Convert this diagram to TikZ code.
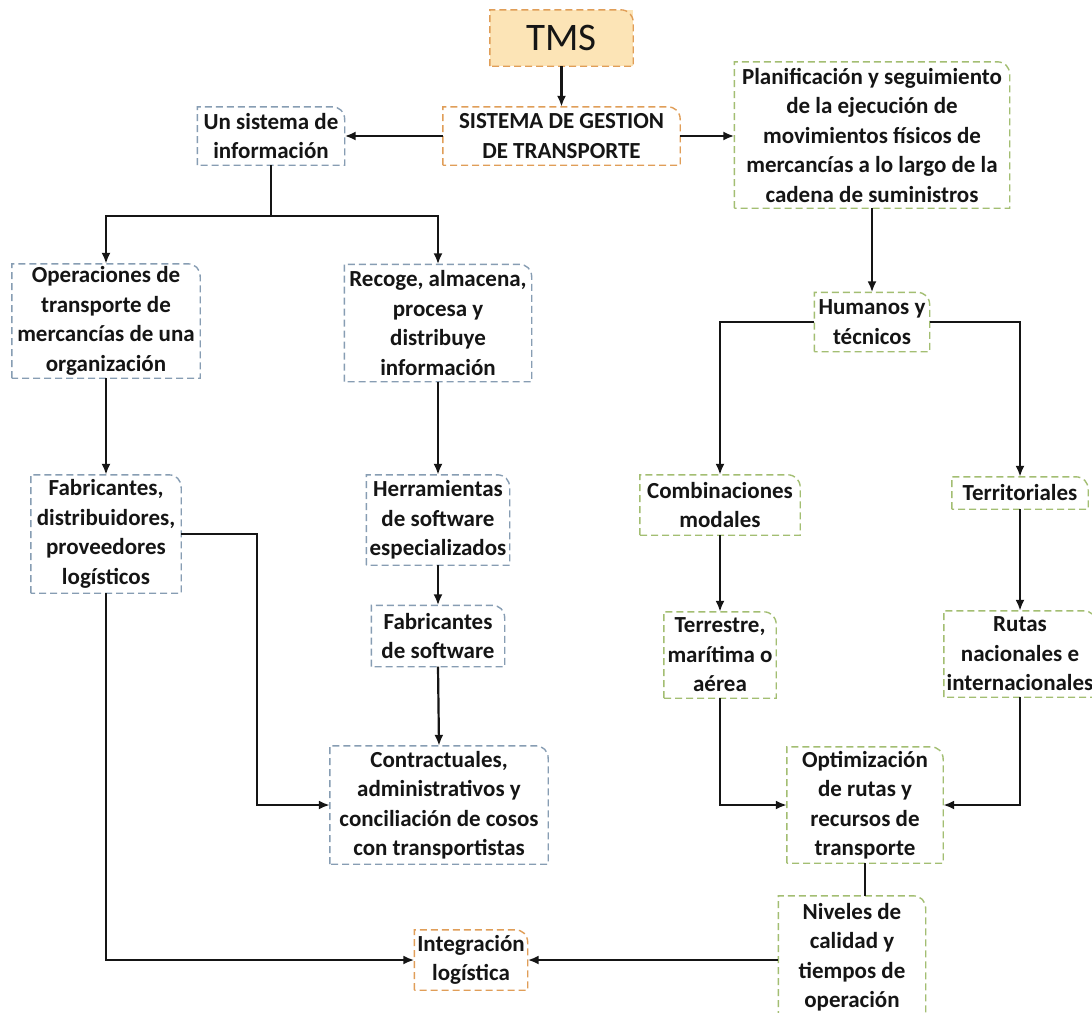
\documentclass[tikz,border=0pt]{standalone}
\usepackage{fontspec}
\setmainfont{Carlito}
\usetikzlibrary{arrows.meta}
\definecolor{bluebd}{HTML}{879DB3}
\definecolor{greenbd}{HTML}{A3BE72}
\definecolor{orangebd}{HTML}{E09E58}
\definecolor{tmsfill}{HTML}{FCE4B6}
\definecolor{inkline}{HTML}{151515}
\begin{document}
\begin{tikzpicture}[x=1pt,y=-1pt,
  every node/.style={inner sep=0pt, align=center, text=inkline},
  txt/.style={font=\bfseries\fontsize{23}{29.5}\selectfont},
  cbox/.style n args={3}{txt, minimum width=#1, minimum height=#2},
  bord/.style={line width=1.4pt, dash pattern=on 7pt off 4pt},
  arr/.style={line width=2.2pt, draw=inkline, -{Latex[length=11pt,width=9pt]}},
  link/.style={line width=2.2pt, draw=inkline}
]
\path[use as bounding box, clip] (0,0) rectangle (1092,1012);
\fill[white] (0,0) rectangle (1092,1012);

% --- top ---
\node[minimum width=143pt, minimum height=56pt, fill=tmsfill,
      font=\fontsize{39}{44}\selectfont] (tms) at (561.5,38) {TMS};
\node[cbox={237pt}{58pt}{}] (sis) at (561.5,136) {SISTEMA DE GESTION\\DE TRANSPORTE};
\node[cbox={147pt}{58pt}{}] (uns) at (271,136) {Un sistema de\\información};
\node[cbox={275pt}{146pt}{}] (plan) at (872,135) {Planificación y seguimiento\\de la ejecución de\\movimientos físicos de\\mercancías a lo largo de la\\cadena de suministros};

% --- left branch ---
\node[cbox={188pt}{114pt}{}] (ope) at (106,321) {Operaciones de\\transporte de\\mercancías de una\\organización};
\node[cbox={187pt}{117pt}{}] (rec) at (438,323) {Recoge, almacena,\\procesa y\\distribuye\\información};
\node[cbox={150pt}{118pt}{}] (fab) at (106,534) {Fabricantes,\\distribuidores,\\proveedores\\logísticos};
\node[cbox={143pt}{90pt}{}] (her) at (438,520) {Herramientas\\de software\\especializados};
\node[cbox={133pt}{61pt}{}] (fsw) at (438,636) {Fabricantes\\de software};
\node[cbox={218pt}{118pt}{}] (con) at (439,805) {Contractuales,\\administrativos y\\conciliación de cosos\\con transportistas};
\node[cbox={113pt}{60pt}{}] (int) at (471,960) {Integración\\logística};

% --- right branch ---
\node[cbox={115pt}{59pt}{}] (hum) at (872,322) {Humanos y\\técnicos};
\node[cbox={160pt}{60pt}{}] (com) at (720,505) {Combinaciones\\modales};
\node[cbox={136pt}{32pt}{}] (ter) at (1020,493) {Territoriales};
\node[cbox={112pt}{86pt}{}] (trr) at (720,655) {Terrestre,\\marítima o\\aérea};
\node[cbox={152pt}{86pt}{}] (rut) at (1020,654) {Rutas\\nacionales e\\internacionales};
\node[cbox={156pt}{116pt}{}] (opt) at (865,805) {Optimización\\de rutas y\\recursos de\\transporte};
\node[cbox={147pt}{122pt}{}] (niv) at (852,957) {Niveles de\\calidad y\\tiempos de\\operación};

% dashed outlines, top-right corner rounded
\foreach \n/\c in {tms/orangebd, sis/orangebd, int/orangebd,
                   uns/bluebd, ope/bluebd, rec/bluebd, fab/bluebd,
                   her/bluebd, fsw/bluebd, con/bluebd,
                   plan/greenbd, hum/greenbd, com/greenbd, ter/greenbd,
                   trr/greenbd, rut/greenbd, opt/greenbd, niv/greenbd}{
  \draw[bord, draw=\c] (\n.south west) -- (\n.north west)
     -- ([xshift=-13pt]\n.north east)
     .. controls ([xshift=-5pt]\n.north east) and ([yshift=-5pt]\n.north east) .. ([yshift=-13pt]\n.north east)
     -- (\n.south east) -- cycle;
}

% --- connectors ---
\coordinate (j1) at (271,216);
\coordinate (kx) at (257,0);

\draw[arr] (tms) -- (sis);
\draw[arr] (sis.west) -- (uns.east);
\draw[arr] (sis.east) -- (sis.east -| plan.west);
\draw[link] (uns.south) -- (j1);
\draw[arr] (j1) -| (ope.north);
\draw[arr] (j1) -| (rec.north);
\draw[arr] (ope.south) -- (fab.north);
\draw[arr] (rec.south) -- (her.north);
\draw[arr] (her.south) -- (fsw.north);
\draw[arr] (fsw.south) -- (con.north);
\draw[arr] (fab.east) -| (kx |- con.west) -- (con.west);
\draw[arr] (fab.south) |- (int.west);

\draw[arr] (plan.south) -- (hum.north);
\draw[arr] (hum.west) -| (com.north);
\draw[arr] (hum.east) -| (ter.north);
\draw[arr] (com.south) -- (trr.north);
\draw[arr] (ter.south) -- (rut.north);
\draw[arr] (trr.south) |- (opt.west);
\draw[arr] (rut.south) |- (opt.east);
\draw[link] (opt.south) -- (opt.south |- niv.north);
\draw[arr] (niv.west |- int.east) -- (int.east);
\end{tikzpicture}
\end{document}
